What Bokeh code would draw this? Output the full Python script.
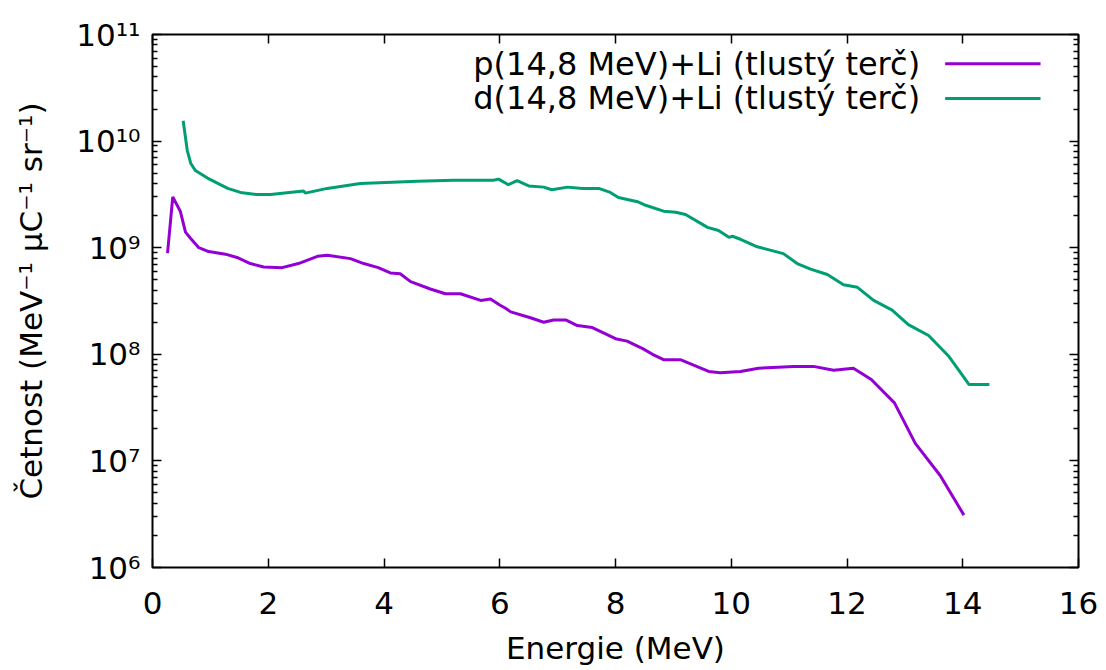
from bokeh.plotting import figure
from bokeh.models import (FixedTicker, LinearAxis, LogAxis, Range1d, LinearScale,
                          ColumnDataSource, CustomLabelingPolicy)
from bokeh.core.properties import value
from bokeh.embed import file_html
from bokeh.resources import INLINE

# Proton beam spectrum, p(14.8 MeV)+Li, thick target
p_energy = [0.26, 0.35, 0.48, 0.57, 0.66, 0.80, 0.97, 1.26, 1.46, 1.69, 1.92, 2.24,
            2.52, 2.85, 3.02, 3.42, 3.65, 3.90, 4.11, 4.28, 4.46, 4.80, 5.06, 5.32,
            5.67, 5.84, 6.00, 6.10, 6.19, 6.53, 6.76, 6.93, 7.14, 7.34, 7.60, 8.00,
            8.20, 8.47, 8.64, 8.83, 9.12, 9.61, 9.81, 10.16, 10.47, 11.08, 11.42,
            11.77, 12.11, 12.42, 12.82, 13.18, 13.61, 14.02]
p_counts = [8.9e8, 3.0e9, 2.2e9, 1.4e9, 1.22e9, 1.0e9, 9.2e8, 8.7e8, 8.1e8, 7.1e8,
            6.6e8, 6.5e8, 7.1e8, 8.3e8, 8.5e8, 7.9e8, 7.1e8, 6.5e8, 5.8e8, 5.7e8,
            4.8e8, 4.1e8, 3.7e8, 3.7e8, 3.2e8, 3.3e8, 2.9e8, 2.7e8, 2.5e8, 2.2e8,
            2.0e8, 2.1e8, 2.1e8, 1.86e8, 1.78e8, 1.4e8, 1.33e8, 1.13e8, 1.0e8, 8.9e7,
            8.9e7, 6.9e7, 6.7e7, 6.9e7, 7.4e7, 7.7e7, 7.7e7, 7.1e7, 7.4e7, 5.8e7,
            3.5e7, 1.46e7, 7.3e6, 3.1e6]

# Deuteron beam spectrum, d(14.8 MeV)+Li, thick target
d_energy = [0.53, 0.60, 0.66, 0.74, 0.95, 1.30, 1.52, 1.81, 2.04, 2.61, 2.64, 3.02,
            3.59, 4.58, 5.20, 5.89, 5.98, 6.15, 6.30, 6.50, 6.76, 6.90, 7.17, 7.43,
            7.71, 7.91, 8.05, 8.38, 8.52, 8.83, 9.04, 9.21, 9.59, 9.78, 9.96, 10.02,
            10.16, 10.45, 10.90, 11.14, 11.37, 11.66, 11.94, 12.18, 12.46, 12.78,
            13.06, 13.41, 13.75, 14.11, 14.46]
d_counts = [1.55e10, 8.2e9, 6.2e9, 5.3e9, 4.5e9, 3.6e9, 3.3e9, 3.15e9, 3.15e9, 3.4e9,
            3.25e9, 3.6e9, 4.0e9, 4.2e9, 4.3e9, 4.3e9, 4.4e9, 3.9e9, 4.25e9, 3.8e9,
            3.7e9, 3.5e9, 3.7e9, 3.6e9, 3.6e9, 3.3e9, 2.96e9, 2.7e9, 2.5e9, 2.2e9,
            2.15e9, 2.05e9, 1.55e9, 1.45e9, 1.25e9, 1.28e9, 1.2e9, 1.02e9, 8.8e8,
            7.1e8, 6.3e8, 5.6e8, 4.5e8, 4.25e8, 3.2e8, 2.6e8, 1.9e8, 1.5e8, 9.7e7,
            5.2e7, 5.2e7]

series_labels = ["p(14,8 MeV)+Li (tlustý terč)", "d(14,8 MeV)+Li (tlustý terč)"]
series_colors = ["#9400d3", "#009e73"]

x_ticks = [0, 2, 4, 6, 8, 10, 12, 14, 16]
y_ticks = [10**6, 10**7, 10**8, 10**9, 10**10, 10**11]
y_tick_labels = ["10⁶", "10⁷", "10⁸", "10⁹", "10¹⁰", "10¹¹"]

FONT = "DejaVu Sans"
TICK_SIZE = "31px"

y_minor = [m * d for d in y_ticks[:-1] for m in range(2, 10)]
x_ticker = FixedTicker(ticks=x_ticks)
y_ticker = FixedTicker(ticks=y_ticks, minor_ticks=y_minor)

p = figure(frame_width=926, frame_height=533,
           x_range=Range1d(0, 16), y_range=Range1d(1e6, 1e11),
           y_axis_type="log", output_backend="svg", toolbar_location=None,
           min_border_left=152, min_border_right=28,
           min_border_top=34, min_border_bottom=103,
           x_axis_label="Energie (MeV)",
           y_axis_label="Četnost (MeV⁻¹ μC⁻¹ sr⁻¹)")
p.grid.visible = False
p.outline_line_color = "black"
p.outline_line_width = 2
p.background_fill_color = "white"
p.border_fill_color = "white"


def style_axis(ax):
    ax.axis_line_color = None
    ax.major_tick_in = 9
    ax.major_tick_out = 0
    ax.minor_tick_in = 5
    ax.minor_tick_out = 0
    ax.major_tick_line_color = "black"
    ax.minor_tick_line_color = "black"
    ax.major_tick_line_width = 1.5
    ax.minor_tick_line_width = 1.5
    ax.major_label_text_font = FONT
    ax.major_label_text_font_size = TICK_SIZE
    ax.major_label_text_color = "black"
    ax.axis_label_text_font = FONT
    ax.axis_label_text_font_size = TICK_SIZE
    ax.axis_label_text_font_style = "normal"
    ax.axis_label_text_color = "black"


xa = p.xaxis[0]
xa.ticker = x_ticker
style_axis(xa)
xa.major_label_standoff = 24
xa.axis_label_standoff = 13

ya = p.yaxis[0]
ya.ticker = y_ticker
ya.major_label_overrides = dict(zip(y_ticks, y_tick_labels))
style_axis(ya)
ya.major_label_standoff = 12
ya.axis_label_standoff = 24

# mirrored tick marks on the top and right edges, without labels
no_labels = CustomLabelingPolicy(code="""
for (const i of [...indices.ones()]) indices.unset(i)
return indices
""")
top = LinearAxis(ticker=x_ticker)
style_axis(top)
top.major_label_policy = no_labels
top.major_label_text_font_size = "1px"
top.major_label_standoff = 0
p.add_layout(top, "above")
right = LogAxis(ticker=y_ticker)
style_axis(right)
right.major_label_policy = no_labels
right.major_label_text_font_size = "1px"
right.major_label_standoff = 0
p.add_layout(right, "right")

src_p = ColumnDataSource(dict(x=p_energy, y=p_counts))
src_d = ColumnDataSource(dict(x=d_energy, y=d_counts))
p.line("x", "y", source=src_p, line_color=series_colors[0], line_width=3)
p.line("x", "y", source=src_d, line_color=series_colors[1], line_width=3)

# key in the upper right corner: text right-aligned, sample line after it
p.extra_x_ranges = {"key_x": Range1d(0, 1)}
p.extra_y_ranges = {"key_y": Range1d(0, 1)}
p.extra_x_scales = {"key_x": LinearScale()}
p.extra_y_scales = {"key_y": LinearScale()}
key_rows = [0.945, 0.880]
key = ColumnDataSource(dict(tx=[0.829, 0.829], ty=key_rows, text=series_labels,
                            x0=[0.856, 0.856], x1=[0.959, 0.959],
                            color=series_colors))
p.text("tx", "ty", text="text", source=key, x_range_name="key_x",
       y_range_name="key_y", text_align="right", text_baseline="middle",
       text_font=value(FONT), text_font_size="32px", text_color="black")
p.segment("x0", "ty", "x1", "ty", source=key, x_range_name="key_x",
          y_range_name="key_y", line_color="color", line_width=3)

open("out.html", "w").write(file_html(p, INLINE))
